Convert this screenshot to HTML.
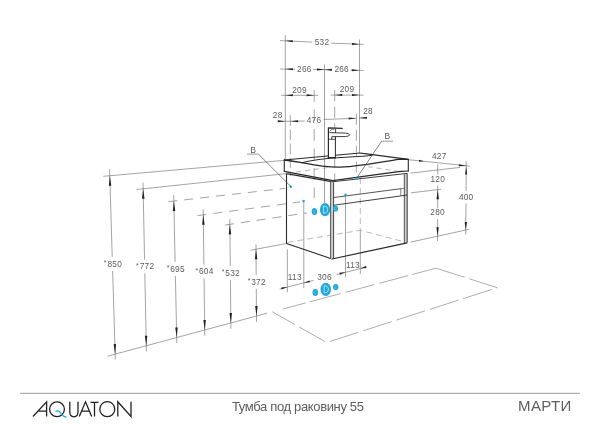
<!DOCTYPE html>
<html><head><meta charset="utf-8"><style>
html,body{margin:0;padding:0;background:#fff;}
body{width:600px;height:424px;overflow:hidden;position:relative;font-family:"Liberation Sans",sans-serif;}
svg{position:absolute;left:0;top:0;will-change:transform;}
svg text{font-family:"Liberation Sans",sans-serif;}
.t{position:absolute;white-space:nowrap;will-change:transform;font-family:"Liberation Sans",sans-serif;color:#5e5e5e;}
</style></head><body>
<svg width="600" height="424" viewBox="0 0 600 424">
<line x1="285.3" y1="35" x2="285.3" y2="160" stroke="#666" stroke-width="0.6"/>
<line x1="359.5" y1="39.6" x2="359.5" y2="153.5" stroke="#666" stroke-width="0.6"/>
<line x1="324.5" y1="64.4" x2="324.5" y2="203" stroke="#666" stroke-width="0.6"/>
<line x1="280" y1="40.6" x2="312" y2="42.1" stroke="#666" stroke-width="0.6"/>
<line x1="331.2" y1="43.1" x2="363.6" y2="44.4" stroke="#666" stroke-width="0.6"/>
<polygon points="285.30,40.80 292.84,40.19 292.74,42.19" fill="#222"/>
<polygon points="359.50,44.20 351.97,44.90 352.05,42.90" fill="#222"/>
<text x="322" y="44.7" font-size="8.3" fill="#5c5c5c" text-anchor="middle" letter-spacing="0.25" >532</text>
<line x1="280" y1="69" x2="295" y2="69.2" stroke="#666" stroke-width="0.6"/>
<line x1="313" y1="69.5" x2="332" y2="69.8" stroke="#666" stroke-width="0.6"/>
<line x1="350.5" y1="70.2" x2="363.6" y2="70.4" stroke="#666" stroke-width="0.6"/>
<polygon points="285.30,69.10 292.81,68.20 292.79,70.20" fill="#222"/>
<polygon points="324.50,69.60 316.99,70.50 317.01,68.50" fill="#222"/>
<polygon points="324.50,69.70 332.01,68.80 331.99,70.80" fill="#222"/>
<polygon points="359.30,70.30 351.79,71.20 351.81,69.20" fill="#222"/>
<text x="304.4" y="71.5" font-size="8.3" fill="#5c5c5c" text-anchor="middle" letter-spacing="0.25" >266</text>
<text x="341.7" y="72" font-size="8.3" fill="#5c5c5c" text-anchor="middle" letter-spacing="0.25" >266</text>
<line x1="281.2" y1="95.3" x2="318.3" y2="95.3" stroke="#666" stroke-width="0.6"/>
<line x1="330.6" y1="95.1" x2="363.6" y2="95.1" stroke="#666" stroke-width="0.6"/>
<polygon points="285.30,95.30 292.80,94.30 292.80,96.30" fill="#222"/>
<polygon points="314.20,95.30 306.70,96.30 306.70,94.30" fill="#222"/>
<polygon points="334.70,95.10 342.20,94.10 342.20,96.10" fill="#222"/>
<polygon points="359.50,95.10 352.00,96.10 352.00,94.10" fill="#222"/>
<text x="299.5" y="92.7" font-size="8.3" fill="#5c5c5c" text-anchor="middle" letter-spacing="0.25" >209</text>
<text x="347" y="92.4" font-size="8.3" fill="#5c5c5c" text-anchor="middle" letter-spacing="0.25" >209</text>
<line x1="314.2" y1="90" x2="314.2" y2="198" stroke="#666" stroke-width="0.6" stroke-dasharray="11.8,7.7"/>
<line x1="334.7" y1="90" x2="334.7" y2="182" stroke="#666" stroke-width="0.6" stroke-dasharray="11.2,5.5"/>
<line x1="277.7" y1="121.3" x2="304.8" y2="121.1" stroke="#666" stroke-width="0.6"/>
<line x1="323.7" y1="119.5" x2="356" y2="118.3" stroke="#666" stroke-width="0.6"/>
<line x1="359.5" y1="118" x2="366" y2="117.7" stroke="#666" stroke-width="0.6"/>
<polygon points="285.30,121.30 277.80,122.30 277.80,120.30" fill="#222"/>
<polygon points="290.60,121.20 298.10,120.20 298.10,122.20" fill="#222"/>
<polygon points="356.20,118.30 348.73,119.51 348.68,117.51" fill="#222"/>
<polygon points="359.50,118.00 366.95,116.68 367.04,118.68" fill="#222"/>
<line x1="290.3" y1="115.4" x2="290.3" y2="176" stroke="#666" stroke-width="0.6" stroke-dasharray="10.6,3.5"/>
<line x1="356.4" y1="113.6" x2="356.4" y2="178" stroke="#666" stroke-width="0.6" stroke-dasharray="11,5"/>
<text x="277.7" y="118.3" font-size="8.3" fill="#5c5c5c" text-anchor="middle" letter-spacing="0.25" >28</text>
<text x="368" y="114.4" font-size="8.3" fill="#5c5c5c" text-anchor="middle" letter-spacing="0.25" >28</text>
<text x="314" y="122.5" font-size="8.3" fill="#5c5c5c" text-anchor="middle" letter-spacing="0.25" >476</text>
<line x1="103.3" y1="176.3" x2="285" y2="160.3" stroke="#666" stroke-width="0.6"/>
<line x1="136.7" y1="189.5" x2="286.5" y2="173.6" stroke="#666" stroke-width="0.6"/>
<line x1="168.3" y1="201.7" x2="285" y2="188.3" stroke="#666" stroke-width="0.6" stroke-dasharray="9,7"/>
<line x1="197.5" y1="215.6" x2="300" y2="201.9" stroke="#666" stroke-width="0.6" stroke-dasharray="9,7"/>
<line x1="225" y1="225.1" x2="307" y2="212.9" stroke="#666" stroke-width="0.6" stroke-dasharray="9,7"/>
<line x1="250.6" y1="250.2" x2="286.5" y2="243.5" stroke="#666" stroke-width="0.6"/>
<line x1="107.5" y1="356.2" x2="267" y2="313.2" stroke="#666" stroke-width="0.6"/>
<line x1="109.6" y1="169.2" x2="112.22846638655462" y2="257.0" stroke="#666" stroke-width="0.6"/>
<line x1="112.64758403361344" y1="271.0" x2="115.3" y2="359.6" stroke="#666" stroke-width="0.6"/>
<polygon points="109.80,175.73 111.34,185.69 108.85,185.76" fill="#222"/>
<polygon points="115.14,354.14 113.59,344.18 116.09,344.11" fill="#222"/>
<text x="112.93802521008404" y="266.8" font-size="8.3" fill="#5c5c5c" text-anchor="middle" letter-spacing="0.25" ><tspan font-size="7" dy="-1.6">*</tspan><tspan dy="1.6" dx="0.6">850</tspan></text>
<line x1="143.0" y1="182.5" x2="144.5480165778567" y2="259.4" stroke="#666" stroke-width="0.6"/>
<line x1="144.82984014209592" y1="273.4" x2="146.4" y2="351.4" stroke="#666" stroke-width="0.6"/>
<polygon points="143.13,188.82 144.58,198.79 142.08,198.84" fill="#222"/>
<polygon points="146.29,345.74 144.84,335.77 147.33,335.72" fill="#222"/>
<text x="145.18892835997633" y="269.2" font-size="8.3" fill="#5c5c5c" text-anchor="middle" letter-spacing="0.25" ><tspan font-size="7" dy="-1.6">*</tspan><tspan dy="1.6" dx="0.6">772</tspan></text>
<line x1="173.7" y1="195.0" x2="175.10128378378377" y2="261.9" stroke="#666" stroke-width="0.6"/>
<line x1="175.39452702702704" y1="275.9" x2="176.8" y2="343.0" stroke="#666" stroke-width="0.6"/>
<polygon points="173.83,201.07 175.29,211.04 172.79,211.09" fill="#222"/>
<polygon points="176.69,337.55 175.23,327.58 177.73,327.52" fill="#222"/>
<text x="175.74790540540542" y="271.7" font-size="8.3" fill="#5c5c5c" text-anchor="middle" letter-spacing="0.25" ><tspan font-size="7" dy="-1.6">*</tspan><tspan dy="1.6" dx="0.6">695</tspan></text>
<line x1="203.2" y1="209.2" x2="203.9012658227848" y2="264.6" stroke="#666" stroke-width="0.6"/>
<line x1="204.07848101265822" y1="278.6" x2="204.8" y2="335.6" stroke="#666" stroke-width="0.6"/>
<polygon points="203.27,214.83 204.65,224.81 202.15,224.84" fill="#222"/>
<polygon points="204.73,329.99 203.35,320.00 205.85,319.97" fill="#222"/>
<text x="204.48987341772153" y="274.40000000000003" font-size="8.3" fill="#5c5c5c" text-anchor="middle" letter-spacing="0.25" ><tspan font-size="7" dy="-1.6">*</tspan><tspan dy="1.6" dx="0.6">604</tspan></text>
<line x1="229.8" y1="219.2" x2="230.26913242009132" y2="265.9" stroke="#666" stroke-width="0.6"/>
<line x1="230.40977168949772" y1="279.9" x2="230.9" y2="328.7" stroke="#666" stroke-width="0.6"/>
<polygon points="229.85,224.38 231.20,234.37 228.70,234.39" fill="#222"/>
<polygon points="230.84,322.95 229.49,312.96 231.99,312.94" fill="#222"/>
<text x="230.83945205479452" y="275.7" font-size="8.3" fill="#5c5c5c" text-anchor="middle" letter-spacing="0.25" ><tspan font-size="7" dy="-1.6">*</tspan><tspan dy="1.6" dx="0.6">532</tspan></text>
<line x1="256.0" y1="244.5" x2="256.1972833117723" y2="275.0" stroke="#666" stroke-width="0.6"/>
<line x1="256.28783958602844" y1="289.0" x2="256.5" y2="321.8" stroke="#666" stroke-width="0.6"/>
<polygon points="256.03,249.19 257.34,259.18 254.85,259.19" fill="#222"/>
<polygon points="256.46,316.04 255.15,306.05 257.65,306.03" fill="#222"/>
<text x="256.7425614489004" y="284.8" font-size="8.3" fill="#5c5c5c" text-anchor="middle" letter-spacing="0.25" ><tspan font-size="7" dy="-1.6">*</tspan><tspan dy="1.6" dx="0.6">372</tspan></text>
<line x1="272.3" y1="311.8" x2="436" y2="268.2" stroke="#777" stroke-width="0.6" stroke-dasharray="0,10.7,24,4,32,5,30,5,30,4,40"/>
<polyline points="436,268.2 497.2,287.7 326.7,342.5 272.3,311.8" fill="none" stroke="#777" stroke-width="0.6" stroke-linejoin="round" stroke-dasharray="30,5"/>
<line x1="408.5" y1="159.7" x2="469.8" y2="166.1" stroke="#666" stroke-width="0.6"/>
<polygon points="424.00,161.30 418.93,161.80 419.12,159.81" fill="#222"/>
<polygon points="466.30,166.00 458.74,166.18 458.95,164.19" fill="#222"/>
<line x1="410.8" y1="173.1" x2="460" y2="167.4" stroke="#666" stroke-width="0.6"/>
<line x1="466.2" y1="161.4" x2="466.1" y2="191" stroke="#666" stroke-width="0.6"/>
<line x1="466.0" y1="203.5" x2="465.7" y2="234.6" stroke="#666" stroke-width="0.6"/>
<polygon points="466.10,166.60 467.10,174.60 465.10,174.60" fill="#222"/>
<polygon points="465.80,230.00 464.65,222.00 466.95,222.00" fill="#222"/>
<line x1="410.6" y1="242.1" x2="468.7" y2="229.4" stroke="#666" stroke-width="0.6"/>
<text x="466.2" y="200.2" font-size="8.3" fill="#5c5c5c" text-anchor="middle" letter-spacing="0.25" >400</text>
<text x="439.3" y="158.7" font-size="8.3" fill="#5c5c5c" text-anchor="middle" letter-spacing="0.25" >427</text>
<line x1="437.7" y1="164.3" x2="437.7" y2="174.5" stroke="#666" stroke-width="0.6"/>
<line x1="437.7" y1="185.9" x2="437.7" y2="208.4" stroke="#666" stroke-width="0.6"/>
<line x1="437.6" y1="219.0" x2="437.6" y2="241" stroke="#666" stroke-width="0.6"/>
<line x1="410.8" y1="192.9" x2="441.2" y2="189.2" stroke="#666" stroke-width="0.6"/>
<polygon points="437.70,189.80 438.90,199.30 436.50,199.30" fill="#222"/>
<polygon points="437.60,236.20 436.40,227.20 438.80,227.20" fill="#222"/>
<text x="437.8" y="181.6" font-size="8.3" fill="#5c5c5c" text-anchor="middle" letter-spacing="0.25" >120</text>
<text x="437.6" y="215.2" font-size="8.3" fill="#5c5c5c" text-anchor="middle" letter-spacing="0.25" >280</text>
<line x1="279.7" y1="289.0" x2="313.5" y2="280.42388059701494" stroke="#666" stroke-width="0.6"/>
<line x1="336.5" y1="274.5880597014925" x2="366.8" y2="266.9" stroke="#666" stroke-width="0.6"/>
<polygon points="287.30,287.07 281.73,289.52 281.24,287.58" fill="#222"/>
<polygon points="303.90,282.86 309.47,280.41 309.96,282.35" fill="#222"/>
<polygon points="345.50,272.30 339.93,274.75 339.44,272.81" fill="#222"/>
<polygon points="360.30,268.55 365.87,266.10 366.36,268.04" fill="#222"/>
<line x1="287.3" y1="249.4" x2="287.3" y2="292.2" stroke="#666" stroke-width="0.6"/>
<line x1="303.8" y1="201" x2="303.8" y2="288.2" stroke="#666" stroke-width="0.6"/>
<line x1="345.5" y1="194.8" x2="345.5" y2="277.2" stroke="#666" stroke-width="0.6"/>
<line x1="360.3" y1="230.5" x2="360.3" y2="274" stroke="#666" stroke-width="0.6"/>
<text x="294.8" y="280.3" font-size="8.3" fill="#5c5c5c" text-anchor="middle" letter-spacing="0.25" >113</text>
<text x="324.5" y="279.5" font-size="8.3" fill="#5c5c5c" text-anchor="middle" letter-spacing="0.25" >306</text>
<text x="353" y="267.7" font-size="8.3" fill="#5c5c5c" text-anchor="middle" letter-spacing="0.25" >113</text>
<polyline points="287.5,242.4 360.3,230.3 406.5,242.4" fill="none" stroke="#888" stroke-width="0.6" stroke-linejoin="round" stroke-dasharray="6,4"/>
<line x1="360.3" y1="178" x2="360.3" y2="230.3" stroke="#888" stroke-width="0.6" stroke-dasharray="6,4"/>
<polyline points="286.5,173.8 286.5,243.5 332.0,258.9" fill="none" stroke="#2a2a2a" stroke-width="1.1" stroke-linejoin="round"/>
<polyline points="286.5,173.6 331.5,181.6" fill="none" stroke="#2a2a2a" stroke-width="1.3" stroke-linejoin="round"/>
<rect x="330.6" y="181.8" width="3.0" height="77" fill="#cfcfcf"/>
<line x1="330.6" y1="181.5" x2="330.6" y2="258.8" stroke="#444" stroke-width="0.9"/>
<line x1="333.6" y1="182.3" x2="333.6" y2="258.6" stroke="#333" stroke-width="0.9"/>
<rect x="404.3" y="173.5" width="3.0" height="69.5" fill="#cfcfcf"/>
<line x1="404.3" y1="174.2" x2="404.3" y2="243.0" stroke="#444" stroke-width="0.9"/>
<line x1="407.2" y1="173.4" x2="407.2" y2="242.6" stroke="#2a2a2a" stroke-width="0.9"/>
<line x1="331.5" y1="181.9" x2="407.2" y2="173.4" stroke="#2a2a2a" stroke-width="0.9"/>
<line x1="332.0" y1="259.0" x2="407.2" y2="242.8" stroke="#2a2a2a" stroke-width="1.2"/>
<line x1="334" y1="197.5" x2="400.8" y2="188.7" stroke="#2a2a2a" stroke-width="0.8"/>
<line x1="334" y1="205.2" x2="407.2" y2="195.0" stroke="#2a2a2a" stroke-width="0.9"/>
<line x1="400.8" y1="188.7" x2="400.8" y2="195.5" stroke="#2a2a2a" stroke-width="0.6"/>
<line x1="400.8" y1="188.7" x2="404.3" y2="188.3" stroke="#2a2a2a" stroke-width="0.6"/>
<line x1="296" y1="172" x2="330" y2="167.3" stroke="#888" stroke-width="0.6" stroke-dasharray="5,4"/>
<line x1="367.6" y1="166.6" x2="400" y2="171.6" stroke="#888" stroke-width="0.6" stroke-dasharray="5,4"/>
<path d="M284.3,160 L357,153.2 Q360,152.7 363,153.4 L408.3,159.4 L408.3,171" fill="none" stroke="#2a2a2a" stroke-width="1.1" stroke-linejoin="round" stroke-linecap="round"/>
<path d="M284.3,160 Q293,161.2 301.7,162.7 C316,165.5 330,167.4 340,167.2 C360,166.2 385,161.5 400,159.1 L408.3,159.4" fill="none" stroke="#2a2a2a" stroke-width="1.3" stroke-linejoin="round" stroke-linecap="round"/>
<path d="M301.7,162.7 Q318,158.6 343,157.4 L365,156.1 Q369,155.7 372,155.3" fill="none" stroke="#2a2a2a" stroke-width="1.0" stroke-linejoin="round" stroke-linecap="round"/>
<path d="M284.3,160 L284.3,171.3" fill="none" stroke="#2a2a2a" stroke-width="1.1" stroke-linejoin="round" stroke-linecap="round"/>
<path d="M284.3,171.3 Q310,176.2 333,180.6 Q370,175.3 400.8,171.3 L408.3,171" fill="none" stroke="#2a2a2a" stroke-width="1.2" stroke-linejoin="round" stroke-linecap="round"/>
<rect x="328.4" y="128" width="7.1" height="30" fill="#fff"/>
<path d="M335.5,132.6 L345.3,133.1 Q349.6,133.4 349.6,134.9 Q349.6,136.4 345.3,136.5 L335.5,136.7 Z" fill="#fff"/>
<path d="M328.4,158 L328.4,127.8 L342.3,128.3" fill="none" stroke="#2a2a2a" stroke-width="1.2" stroke-linejoin="round" stroke-linecap="round"/>
<path d="M335.6,129.2 L335.6,132.6" fill="none" stroke="#2a2a2a" stroke-width="0.9" stroke-linejoin="round" stroke-linecap="round"/>
<path d="M329.8,132.6 L345.3,133.1 Q349.6,133.4 349.6,134.9 Q349.6,136.4 345.3,136.5 L331.8,136.7 L331.8,139.3" fill="none" stroke="#2a2a2a" stroke-width="0.9" stroke-linejoin="round" stroke-linecap="round"/>
<path d="M335.4,136.7 L335.4,158" fill="none" stroke="#2a2a2a" stroke-width="1.0" stroke-linejoin="round" stroke-linecap="round"/>
<path d="M328.4,139.3 L335.4,139.3" fill="none" stroke="#2a2a2a" stroke-width="0.8" stroke-linejoin="round" stroke-linecap="round"/>
<path d="M329.6,131.2 Q330.5,129.1 334,129.3" fill="none" stroke="#555" stroke-width="0.7" stroke-linejoin="round" stroke-linecap="round"/>
<path d="M328.4,157.6 L335.4,157.6" fill="none" stroke="#2a2a2a" stroke-width="1.4" stroke-linejoin="round" stroke-linecap="round"/>
<ellipse cx="325.05" cy="209.65" rx="5.1" ry="6.55" fill="#1ea8dc"/>
<ellipse cx="314.4" cy="211.5" rx="2.7" ry="3.5" fill="#1ea8dc"/>
<ellipse cx="335.5" cy="208.5" rx="2.5" ry="3.1" fill="#1ea8dc"/>
<ellipse cx="325.75" cy="289.35" rx="5.25" ry="6.55" fill="#1ea8dc"/>
<ellipse cx="315.3" cy="292.45" rx="2.8" ry="3.45" fill="#1ea8dc"/>
<ellipse cx="335.7" cy="287.1" rx="2.7" ry="3.1" fill="#1ea8dc"/>
<path d="M323.45,206.05 L323.45,213.25 Q327.65000000000003,213.25 327.65000000000003,209.65 Q327.65000000000003,206.05 323.45,206.05 Z" fill="none" stroke="#d5f0fb" stroke-width="0.75"/>
<path d="M324.15,285.75 L324.15,292.95000000000005 Q328.35,292.95000000000005 328.35,289.35 Q328.35,285.75 324.15,285.75 Z" fill="none" stroke="#d5f0fb" stroke-width="0.75"/>
<path d="M315.29999999999995,210.2 Q313.5,209.8 313.5,211.5 Q313.5,213.2 315.29999999999995,212.8" fill="none" stroke="#7fcbea" stroke-width="0.5"/>
<path d="M336.4,207.2 Q334.6,206.8 334.6,208.5 Q334.6,210.2 336.4,209.8" fill="none" stroke="#7fcbea" stroke-width="0.5"/>
<path d="M316.2,291.15 Q314.40000000000003,290.75 314.40000000000003,292.45 Q314.40000000000003,294.15 316.2,293.75" fill="none" stroke="#7fcbea" stroke-width="0.5"/>
<path d="M336.59999999999997,285.8 Q334.8,285.40000000000003 334.8,287.1 Q334.8,288.8 336.59999999999997,288.40000000000003" fill="none" stroke="#7fcbea" stroke-width="0.5"/>
<circle cx="290.8" cy="186.8" r="1.3" fill="#1ea8dc"/>
<circle cx="303.6" cy="201" r="1.3" fill="#1ea8dc"/>
<circle cx="356.6" cy="178.2" r="1.3" fill="#1ea8dc"/>
<circle cx="345.5" cy="194.8" r="1.3" fill="#1ea8dc"/>
<text x="250.3" y="152.8" font-size="8.6" fill="#5c5c5c" text-anchor="start" letter-spacing="0.25" >B</text>
<line x1="247" y1="154.1" x2="258.4" y2="154.1" stroke="#555" stroke-width="0.6"/>
<line x1="258.4" y1="154.1" x2="291" y2="186.7" stroke="#333" stroke-width="0.6"/>
<text x="384.5" y="139.4" font-size="8.6" fill="#5c5c5c" text-anchor="start" letter-spacing="0.25" >B</text>
<line x1="381.6" y1="141.2" x2="393" y2="141.2" stroke="#555" stroke-width="0.6"/>
<line x1="381.6" y1="141.2" x2="356.6" y2="178.2" stroke="#333" stroke-width="0.6"/>
<line x1="20" y1="393.3" x2="580" y2="393.3" stroke="#999" stroke-width="1"/>
<!-- AQUATON logo -->
<g fill="none" stroke="#222" stroke-width="1.3" stroke-linecap="butt">
<path d="M33,416.5 L46.6,401.8 L46.6,416.5 M38.8,411.2 L46.6,411.2"/>
<circle cx="57" cy="409.2" r="7.4"/>
<path d="M69.8,401.8 L69.8,411.5 Q69.8,416.8 73.9,416.8 Q78,416.8 78,411.5 L78,401.8"/>
<path d="M79.3,416.5 L85.5,401.8 L91.7,416.5 M81.8,411.2 L89.2,411.2"/>
<path d="M90.5,402.4 L98.5,402.4 M94.5,402.4 L94.5,416.5"/>
<circle cx="107.3" cy="409.2" r="7.5"/>
<path d="M117.8,416.5 L117.8,401.8 L131,416.5 L131,401.8"/>
</g>
<path d="M55.5,411.3 Q58.5,409.8 60.5,412.8 Q62.5,416.6 66.5,417.2" fill="none" stroke="#1ea8dc" stroke-width="1.3"/>
</svg>
<div class="t" style="left:232px;top:399.3px;font-size:13px;letter-spacing:-0.35px;">Тумба под раковину 55</div>
<div class="t" style="left:517.6px;top:397.3px;font-size:15px;letter-spacing:0.4px;">МАРТИ</div>
</body></html>
